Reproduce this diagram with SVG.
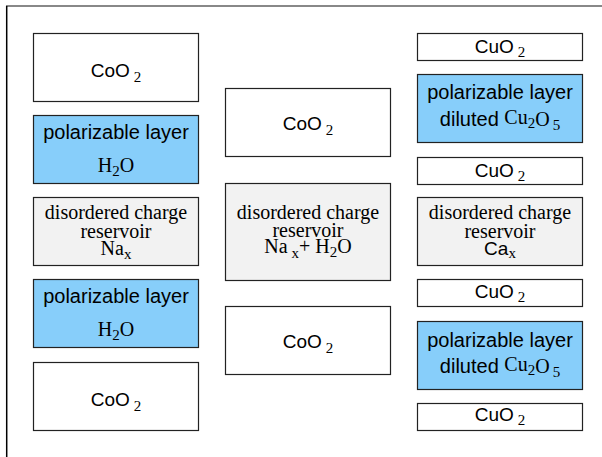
<svg xmlns="http://www.w3.org/2000/svg" width="602" height="457" viewBox="0 0 602 457">
  <style>
    .box { stroke: #222; stroke-width: 1.2; }
    .plain { fill: #ffffff; }
    .pol { fill: #87cefa; }
    .res { fill: #f2f2f2; }
    .sans { font-family: "Liberation Sans", Arial, sans-serif; font-size: 19px; fill: #000; }
    .sans20 { font-family: "Liberation Sans", Arial, sans-serif; font-size: 20px; fill: #000; }
    .serif { font-family: "Liberation Serif", "Times New Roman", serif; font-size: 20px; fill: #000; }
    .sub { font-family: "Liberation Serif", "Times New Roman", serif; font-size: 15px; }
  </style>

  <!-- page frame -->
  <line x1="6" y1="6" x2="602" y2="6" stroke="#888" stroke-width="2"/>
  <line x1="6.7" y1="6" x2="6.7" y2="457" stroke="#000" stroke-width="1.5"/>

  <!-- left stack: Na-intercalated cobaltate -->
  <g id="left-coo2-top">
    <rect class="box plain" x="33.5" y="33.5" width="165" height="68"/>
    <text class="sans" x="116" y="77" text-anchor="middle">CoO<tspan class="sub" dx="4" dy="5">2</tspan></text>
  </g>
  <g id="left-pol-top">
    <rect class="box pol" x="33.5" y="115.5" width="165" height="68"/>
    <text class="sans20" x="116" y="139" text-anchor="middle">polarizable layer</text>
    <text class="serif" x="116" y="172" text-anchor="middle">H<tspan class="sub" dy="4">2</tspan><tspan dy="-4">O</tspan></text>
  </g>
  <g id="left-reservoir">
    <rect class="box res" x="33.5" y="197.5" width="165" height="68"/>
    <text class="serif" x="116" y="219" text-anchor="middle">disordered charge</text>
    <text class="serif" x="116" y="238" text-anchor="middle">reservoir</text>
    <text class="serif" x="116" y="255" text-anchor="middle">Na<tspan class="sub" dy="4">x</tspan></text>
  </g>
  <g id="left-pol-bottom">
    <rect class="box pol" x="33.5" y="279.5" width="165" height="68"/>
    <text class="sans20" x="116" y="303" text-anchor="middle">polarizable layer</text>
    <text class="serif" x="116" y="336" text-anchor="middle">H<tspan class="sub" dy="4">2</tspan><tspan dy="-4">O</tspan></text>
  </g>
  <g id="left-coo2-bottom">
    <rect class="box plain" x="33.5" y="362.5" width="165" height="68"/>
    <text class="sans" x="116" y="406" text-anchor="middle">CoO<tspan class="sub" dx="4" dy="5">2</tspan></text>
  </g>

  <!-- middle stack -->
  <g id="mid-coo2-top">
    <rect class="box plain" x="225.5" y="88.5" width="165" height="68"/>
    <text class="sans" x="308" y="130" text-anchor="middle">CoO<tspan class="sub" dx="4" dy="5">2</tspan></text>
  </g>
  <g id="mid-reservoir">
    <rect class="box res" x="225.5" y="183.5" width="165" height="97"/>
    <text class="serif" x="308" y="219" text-anchor="middle">disordered charge</text>
    <text class="serif" x="308" y="237" text-anchor="middle">reservoir</text>
    <text class="serif" x="308" y="253" text-anchor="middle">Na<tspan class="sub" dx="4" dy="5">x</tspan><tspan dy="-5">+ </tspan>H<tspan class="sub" dy="4">2</tspan><tspan dy="-4">O</tspan></text>
  </g>
  <g id="mid-coo2-bottom">
    <rect class="box plain" x="225.5" y="306.5" width="165" height="68"/>
    <text class="sans" x="308" y="348" text-anchor="middle">CoO<tspan class="sub" dx="4" dy="5">2</tspan></text>
  </g>

  <!-- right stack: Ca-based cuprate -->
  <g id="right-cuo2-1">
    <rect class="box plain" x="417.5" y="33.5" width="165" height="27"/>
    <text class="sans" x="500" y="53" text-anchor="middle">CuO<tspan class="sub" dx="4" dy="4">2</tspan></text>
  </g>
  <g id="right-pol-top">
    <rect class="box pol" x="417.5" y="74.5" width="165" height="68"/>
    <text class="sans20" x="500" y="99" text-anchor="middle">polarizable layer</text>
    <text class="sans20" x="500" y="126" text-anchor="middle">diluted <tspan class="serif" dy="-2">Cu</tspan><tspan class="sub" dy="4">2</tspan><tspan class="serif" dy="-2">O</tspan><tspan class="sub" dx="3" dy="4">5</tspan></text>
  </g>
  <g id="right-cuo2-2">
    <rect class="box plain" x="417.5" y="157.5" width="165" height="27"/>
    <text class="sans" x="500" y="177" text-anchor="middle">CuO<tspan class="sub" dx="4" dy="4">2</tspan></text>
  </g>
  <g id="right-reservoir">
    <rect class="box res" x="417.5" y="197.5" width="165" height="68"/>
    <text class="serif" x="500" y="219" text-anchor="middle">disordered charge</text>
    <text class="serif" x="500" y="238" text-anchor="middle">reservoir</text>
    <text class="sans" x="500" y="255" text-anchor="middle">Ca<tspan class="sub" dy="3">x</tspan></text>
  </g>
  <g id="right-cuo2-3">
    <rect class="box plain" x="417.5" y="279.5" width="165" height="27"/>
    <text class="sans" x="500" y="298" text-anchor="middle">CuO<tspan class="sub" dx="4" dy="4">2</tspan></text>
  </g>
  <g id="right-pol-bottom">
    <rect class="box pol" x="417.5" y="321.5" width="165" height="68"/>
    <text class="sans20" x="500" y="347" text-anchor="middle">polarizable layer</text>
    <text class="sans20" x="500" y="373" text-anchor="middle">diluted <tspan class="serif" dy="-2">Cu</tspan><tspan class="sub" dy="4">2</tspan><tspan class="serif" dy="-2">O</tspan><tspan class="sub" dx="3" dy="4">5</tspan></text>
  </g>
  <g id="right-cuo2-4">
    <rect class="box plain" x="417.5" y="403.5" width="165" height="27"/>
    <text class="sans" x="500" y="421" text-anchor="middle">CuO<tspan class="sub" dx="4" dy="4">2</tspan></text>
  </g>
</svg>
